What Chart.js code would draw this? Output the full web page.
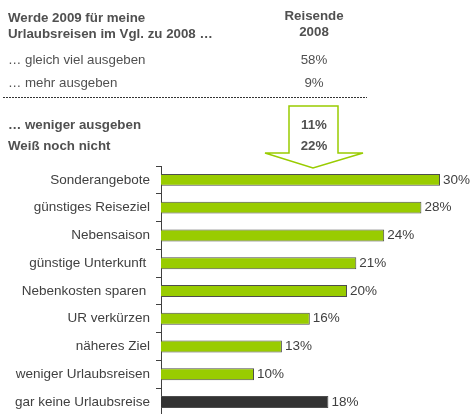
<!DOCTYPE html>
<html>
<head>
<meta charset="utf-8">
<script src="https://cdn.jsdelivr.net/npm/chart.js@4"></script>
<style>
  body { margin: 0; width: 470px; height: 414px; overflow: hidden; background: #fff; font-family: "Liberation Sans", Arial, sans-serif; }
  #wrap { position: absolute; left: 0; top: 0; width: 470px; height: 430px; }
  .t { position: absolute; font-size: 13.3px; color: #505050; white-space: nowrap; }
  .b { font-weight: bold; }
  .c { text-align: center; width: 80px; }
  svg { position: absolute; left: 0; top: 0; }
</style>
</head>
<body>
<div id="wrap"><canvas id="chart" width="470" height="430"></canvas></div>
<svg width="470" height="414">
  <line x1="3" y1="97.5" x2="367" y2="97.5" stroke="#333" stroke-width="1" stroke-dasharray="2,1"/>
  <polygon points="289,106 338,106 338,153 363,153 313,168 265,153 289,153" fill="#fff" stroke="#99cc00" stroke-width="1.5"/>
</svg>
<div id="table"></div>
<script>
const questionLines = ['Werde 2009 für meine', 'Urlaubsreisen im Vgl. zu 2008 …'];
const columnHeader = ['Reisende', '2008'];
const tableLabels = ['… gleich viel ausgeben', '… mehr ausgeben', '… weniger ausgeben', 'Weiß noch nicht'];
const tableValues = ['58%', '9%', '11%', '22%'];

const categories = ['Sonderangebote', 'günstiges Reiseziel', 'Nebensaison', 'günstige Unterkunft ',
  'Nebenkosten sparen ', 'UR verkürzen', 'näheres Ziel', 'weniger Urlaubsreisen', 'gar keine Urlaubsreise'];
const values = [30, 28, 24, 21, 20, 16, 13, 10, 18];

// table above the chart
const table = document.getElementById('table');
function addText(txt, x, top, cls) {
  const d = document.createElement('div');
  d.className = 't ' + cls;
  d.style.left = x + 'px';
  d.style.top = top + 'px';
  d.style.lineHeight = '16px';
  d.textContent = txt;
  table.appendChild(d);
}
questionLines.forEach((s, i) => addText(s, 8, 9.6 + i * 16.6, 'b'));
columnHeader.forEach((s, i) => addText(s, 274, 8.3 + i * 15.3, 'b c'));
const rowTops = [51.5, 74.8, 116.8, 137.5];
tableLabels.forEach((s, i) => {
  const bold = i >= 2 ? 'b' : '';
  addText(s, 8, rowTops[i], bold);
  addText(tableValues[i], 274, rowTops[i], bold + ' c');
});

const valueLabels = {
  id: 'valueLabels',
  afterDatasetsDraw(chart) {
    const ctx = chart.ctx;
    ctx.save();
    ctx.font = '13.5px "Liberation Sans", Arial, sans-serif';
    ctx.fillStyle = '#404040';
    ctx.textBaseline = 'middle';
    chart.getDatasetMeta(0).data.forEach((bar, i) => {
      ctx.fillText(values[i] + '%', bar.x + 3, bar.y);
    });
    ctx.restore();
  }
};

new Chart(document.getElementById('chart'), {
  type: 'bar',
  data: {
    labels: categories,
    datasets: [{
      data: values,
      backgroundColor: categories.map((c, i) => i === categories.length - 1 ? '#333333' : '#99cc00'),
      borderColor: '#4d4d4d',
      borderWidth: 1,
      categoryPercentage: 1,
      barPercentage: 0.43
    }]
  },
  options: {
    indexAxis: 'y',
    responsive: false,
    animation: false,
    devicePixelRatio: 1,
    layout: { padding: { top: 166, bottom: 10, left: 0, right: 30 } },
    plugins: { legend: { display: false }, tooltip: { enabled: false } },
    scales: {
      x: { display: false, min: 0, max: 30 },
      y: {
        afterFit: (scale) => { scale.width = 161; },
        border: { display: true, color: '#404040', width: 1 },
        grid: { drawOnChartArea: false, drawTicks: true, tickLength: 5, color: '#404040' },
        ticks: { autoSkip: false, padding: 6, color: '#404040', font: { family: '"Liberation Sans", Arial, sans-serif', size: 13.5 } }
      }
    }
  },
  plugins: [valueLabels]
});
</script>
</body>
</html>
